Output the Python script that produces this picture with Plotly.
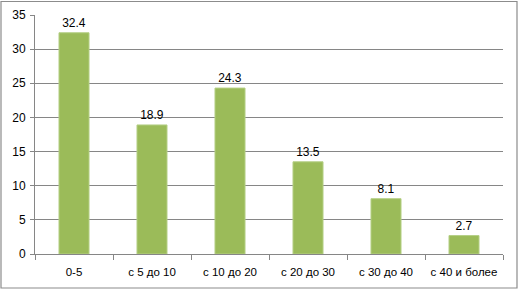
import plotly.graph_objects as go

categories = ["0-5", "с 5 до 10", "с 10 до 20", "с 20 до 30", "с 30 до 40", "с 40 и более"]
values = [32.4, 18.9, 24.3, 13.5, 8.1, 2.7]
y_ticks = [0, 5, 10, 15, 20, 25, 30, 35]

W, H = 519, 290
L, R, T, B = 35, 16, 15, 36
pw, ph = W - L - R, H - T - B

fig = go.Figure(go.Bar(
    x=categories, y=values,
    marker=dict(color="#9BBB59", line=dict(color="#B5CF86", width=1)),
    text=[f"{v}" for v in values], textposition="outside",
    textfont=dict(family="Liberation Sans, Arial", size=12, color="#000000"),
    cliponaxis=False,
))

def px2x(px):
    return (px - L) / pw

def py2y(py):
    return (H - B - py) / ph

fig.add_shape(type="rect", xref="paper", yref="paper",
              x0=px2x(1), x1=px2x(517), y0=py2y(288), y1=py2y(1.5),
              line=dict(color="#8C8C8C", width=1.2), layer="below")

fig.update_layout(
    width=W, height=H,
    margin=dict(l=L, r=R, t=T, b=B, autoexpand=False),
    paper_bgcolor="white", plot_bgcolor="white",
    bargap=0.615,
    showlegend=False,
    font=dict(family="Liberation Sans, Arial", size=11, color="#000000"),
    xaxis=dict(
        type="category", showline=True, linecolor="#868686", linewidth=1,
        ticks="outside", tickson="boundaries", ticklen=5, tickcolor="#868686",
        showgrid=False, tickfont=dict(size=11.5), automargin=False,
        ticklabelstandoff=7, tickangle=0,
    ),
    yaxis=dict(
        range=[0, 35], tickvals=y_ticks, showline=True, linecolor="#868686", linewidth=1,
        ticks="outside", ticklen=4, tickcolor="#868686",
        showgrid=True, gridcolor="#868686", gridwidth=1,
        tickfont=dict(size=12), zeroline=False, automargin=False,
        ticklabelstandoff=2,
    ),
)

fig.write_html("out.html", config={"displayModeBar": False},
               post_script="document.body.style.margin='0';document.body.style.overflow='hidden';")
